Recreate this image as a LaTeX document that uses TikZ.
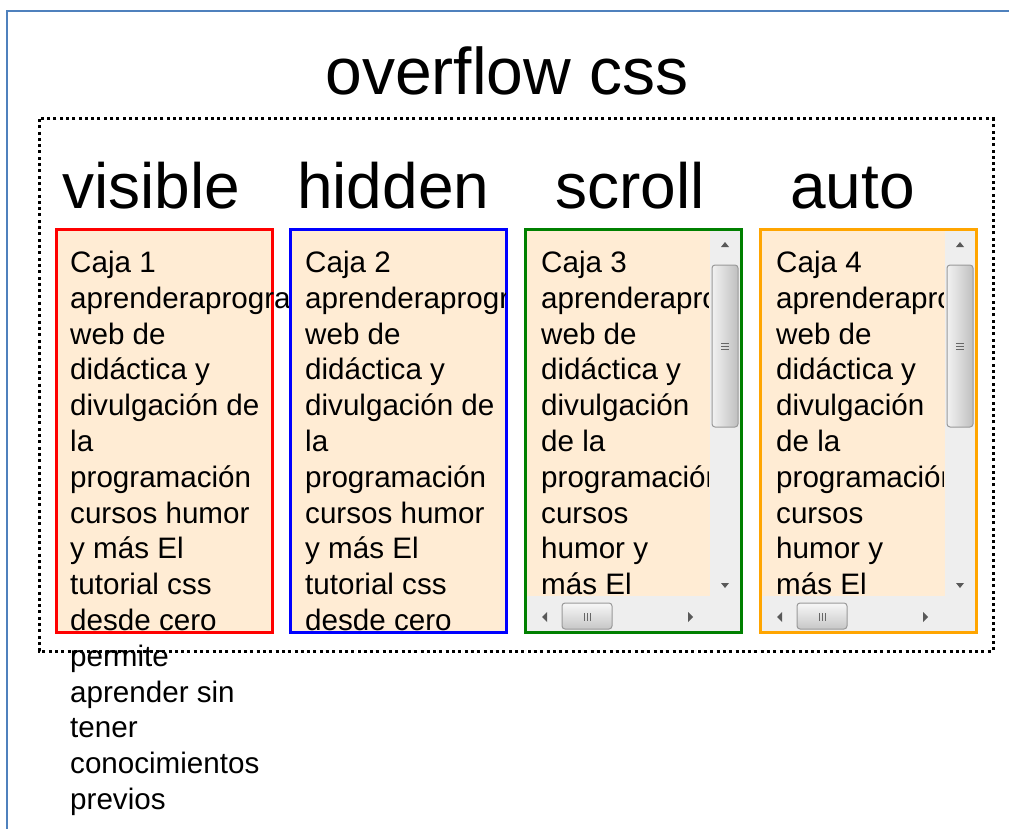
\documentclass[tikz,border=0pt]{standalone}
\usepackage{fontspec}
\setmainfont{Liberation Sans}
\usepackage{xcolor}
\usepackage{tikz}
\usetikzlibrary{positioning}

\definecolor{fondocaja}{RGB}{255,236,212}
\definecolor{marco}{RGB}{79,129,189}
\definecolor{naranja}{RGB}{255,165,0}
\definecolor{verde}{RGB}{0,128,0}
\definecolor{barra}{RGB}{238,238,238}

\tikzset{
  caja/.style={draw=#1, line width=3, fill=fondocaja, minimum width=216, minimum height=403, inner sep=0},
  texto/.style={align=left, anchor=base west, inner sep=0, font=\fontsize{29.6}{35.8}\selectfont},
  cabecera/.style={anchor=base west, inner sep=0, font=\fontsize{64}{70}\selectfont},
  flecha/.style={fill=black!65},
  pulgar/.style={draw=black!40, line width=1, rounded corners=3}
}

\begin{document}
\begin{tikzpicture}[x=1pt,y=-1pt]
\useasboundingbox (0,0) rectangle (1009,829);

% marco de la pagina
\draw[marco, line width=2] (7,840) -- (7,11) -- (1020,11);

% titulo y cabeceras
\node[anchor=base, inner sep=0, font=\fontsize{66}{72}\selectfont] (titulo) at (507,95) {overflow css};
\node[cabecera] (visible) at (62,208) {visible};
\node[cabecera] (hidden) at (297,208) {hidden};
\node[cabecera] (scroll) at (555,208) {scroll};
\node[cabecera] (auto) at (790,208) {auto};

% Caja 1: visible (el texto se sale de la caja)
\node[caja=red] (caja1) at (164.5,431) {};
\node[texto] (texto1) at (70,809.5) {Caja 1\\aprenderaprogra\\web de\\didáctica y\\divulgación de\\la\\programación\\cursos humor\\y más El\\tutorial css\\desde cero\\permite\\aprender sin\\tener\\conocimientos\\previos};

% Caja 2: hidden
\node[caja=blue] (caja2) at (398.5,431) {};
\begin{scope}
\clip (292,231) rectangle (505,631);
\node[texto] (texto2) at (305,630.5) {Caja 2\\aprenderaprogra\\web de\\didáctica y\\divulgación de\\la\\programación\\cursos humor\\y más El\\tutorial css\\desde cero};
\end{scope}

% Caja 3: scroll
\node[caja=verde] (caja3) at (633.5,431) {};
\begin{scope}
\clip (527,231) rectangle (708,596);
\node[texto] (texto3) at (541,594.7) {Caja 3\\aprenderaprogra\\web de\\didáctica y\\divulgación\\de la\\programación\\cursos\\humor y\\más El};
\end{scope}

% Caja 4: auto
\node[caja=naranja] (caja4) at (868.5,431) {};
\begin{scope}
\clip (762,231) rectangle (943,596);
\node[texto] (texto4) at (776,594.7) {Caja 4\\aprenderaprogra\\web de\\didáctica y\\divulgación\\de la\\programación\\cursos\\humor y\\más El};
\end{scope}

% barras de desplazamiento
\foreach \L in {524,759} {
  \fill[barra] ({\L+186},231) rectangle ({\L+216},631);
  \fill[barra] ({\L+3},596) rectangle ({\L+186},631);
  % vertical
  \shade[pulgar, left color=black!5, right color=black!25] ({\L+188},265) rectangle ({\L+214},427);
  \foreach \g in {-3,0,3}
    \draw[black!60] ({\L+197},{346+\g}) -- ({\L+205},{346+\g});
  \fill[flecha] ({\L+197},247) -- ({\L+205},247) -- ({\L+201},242) -- cycle;
  \fill[flecha] ({\L+197},583) -- ({\L+205},583) -- ({\L+201},588) -- cycle;
  % horizontal
  \shade[pulgar, top color=black!3, bottom color=black!22] ({\L+38},603) rectangle ({\L+88},629);
  \foreach \g in {-3,0,3}
    \draw[black!60] ({\L+63+\g},613) -- ({\L+63+\g},621);
  \fill[flecha] ({\L+23},612) -- ({\L+23},622) -- ({\L+18},617) -- cycle;
  \fill[flecha] ({\L+164},612) -- ({\L+164},622) -- ({\L+169},617) -- cycle;
}

% recuadro punteado
\draw[line width=3, dash pattern=on 3 off 3.3] (39,119) rectangle (993,651);
\end{tikzpicture}
\end{document}
